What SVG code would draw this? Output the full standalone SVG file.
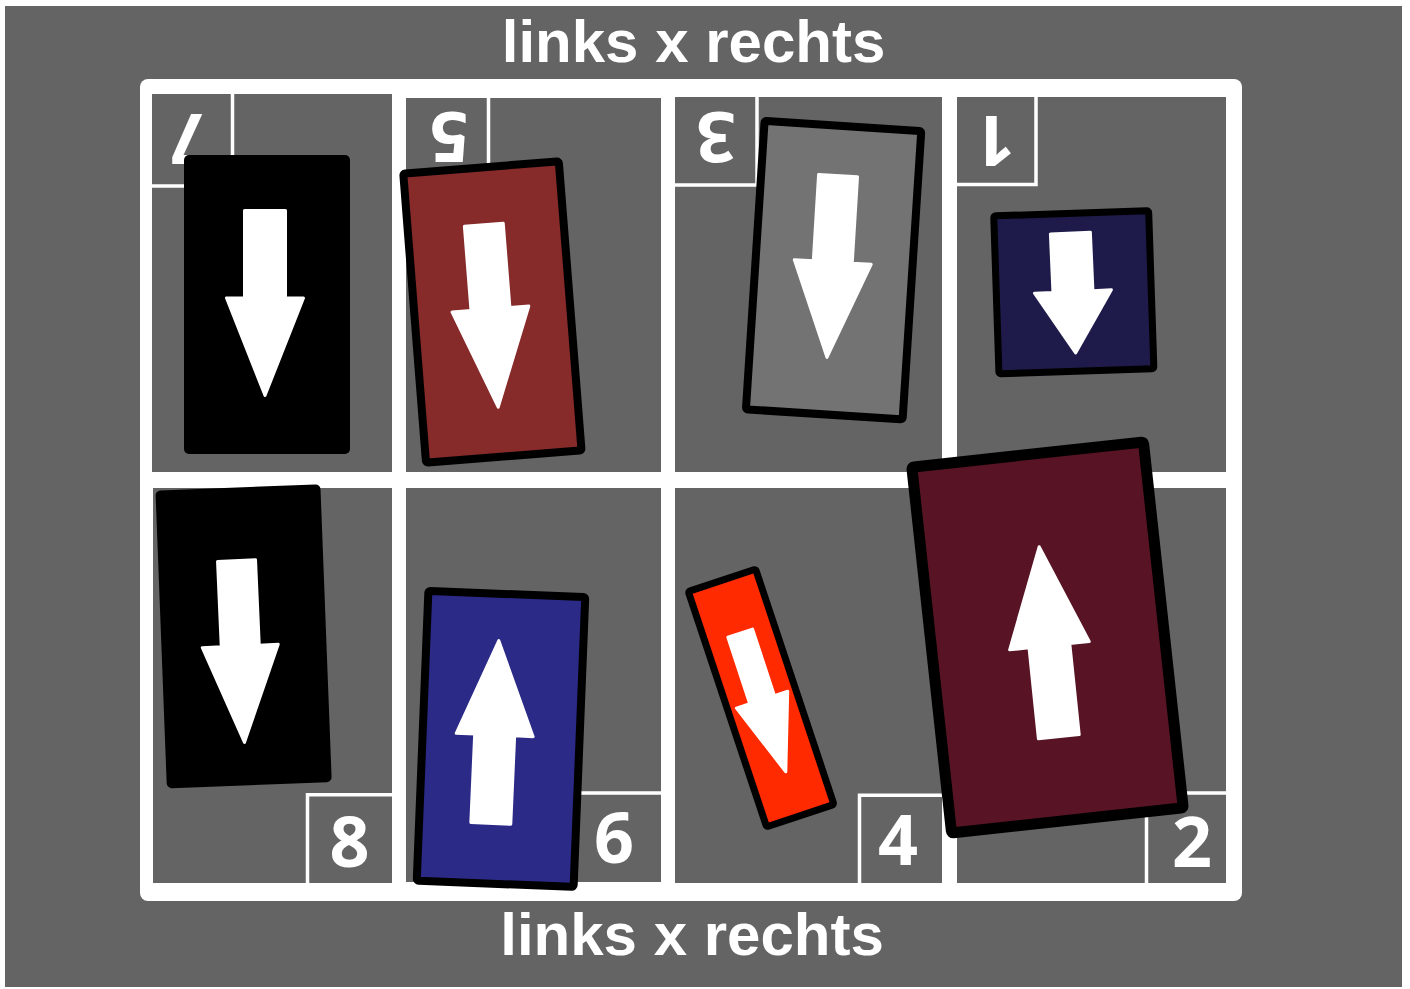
<svg xmlns="http://www.w3.org/2000/svg" width="1410" height="989" viewBox="0 0 1410 989">
<style>
.cell{fill:#646464}
.lbl{fill:none;stroke:#ffffff;stroke-width:3.5}
.num{font-family:"Open Sans","Liberation Sans",Arial,sans-serif;font-weight:bold;font-size:70px;fill:#ffffff;text-anchor:middle}
.title{font-family:"Liberation Sans",Arial,sans-serif;font-weight:bold;font-size:60px;fill:#ffffff;text-anchor:middle}
.card{stroke:#000000;stroke-linejoin:round}
.arrow{fill:#ffffff;stroke:#ffffff;stroke-width:3;stroke-linejoin:round}
</style>
<rect x="0" y="0" width="1410" height="989" fill="#ffffff"/>
<rect x="5" y="6" width="1397" height="981" fill="#646464"/>
<text class="title" x="693.5" y="62">links x rechts</text>
<text class="title" x="692" y="955">links x rechts</text>
<g id="frame">
<rect x="140" y="79" width="1102" height="822" rx="8" fill="#ffffff"/>
<rect class="cell" x="152" y="94" width="240" height="378"/>
<rect class="cell" x="406" y="98" width="255" height="374"/>
<rect class="cell" x="675" y="97" width="267" height="375"/>
<rect class="cell" x="957" y="97" width="269" height="375"/>
<rect class="cell" x="153" y="488" width="239" height="395"/>
<rect class="cell" x="406" y="488" width="255" height="394"/>
<rect class="cell" x="675" y="488" width="267" height="395"/>
<rect class="cell" x="957" y="488" width="269" height="395"/>
</g>
<g id="labels">
<path class="lbl" d="M232.5,94 V186 H152"/>
<path class="lbl" d="M488.5,98 V186 H406"/>
<path class="lbl" d="M757,97 V185 H675"/>
<path class="lbl" d="M1036,97 V184.5 H957"/>
<path class="lbl" d="M307.5,883 V794.7 H392"/>
<path class="lbl" d="M575,882 V793 H661"/>
<path class="lbl" d="M859.5,883 V795.3 H942"/>
<path class="lbl" d="M1146.5,883 V793 H1226"/>
<text class="num" x="190" y="164" transform="rotate(180 190 139)">7</text>
<text class="num" x="449" y="162" transform="rotate(180 449 137)">5</text>
<text class="num" x="716" y="162" transform="rotate(180 716 137)">3</text>
<text class="num" x="995" y="166" transform="rotate(180 995 141)">1</text>
<text class="num" x="349.5" y="867">8</text>
<text class="num" x="614" y="863">6</text>
<text class="num" x="898" y="865">4</text>
<text class="num" x="1192" y="867">2</text>
</g>
<g id="card7" transform="translate(267,304.5)">
<rect x="-83" y="-149.5" width="166" height="299" rx="5" fill="#000000"/>
<path class="arrow" transform="translate(-2,-1.5)" d="M-20.5,-92.5 H20.5 V-5 H38.5 L0,92.5 L-38.5,-5 H-20.5 Z"/>
</g>
<g id="card5">
<rect class="card" transform="translate(492.4,312) rotate(-4.5)" x="-78" y="-145" width="156" height="290" rx="2" fill="#862a2a" stroke-width="8"/>
<path class="arrow" transform="translate(491,316) rotate(-4.5)" d="M-19.5,-91.5 H19.5 V-7 H38.5 L0,91.5 L-38.5,-7 H-19.5 Z"/>
</g>
<g id="card3">
<rect class="card" transform="translate(833.6,270.2) rotate(3.7)" x="-78.5" y="-144.5" width="157" height="289" rx="2" fill="#737373" stroke-width="8"/>
<path class="arrow" transform="translate(832.5,266.5) rotate(3.5)" d="M-19.5,-91 H19.5 V-4.5 H38.5 L0,91 L-38.5,-4.5 H-19.5 Z"/>
</g>
<g id="card1">
<rect class="card" transform="translate(1073.8,292.3) rotate(-1.9)" x="-77.5" y="-79" width="155" height="158" rx="2" fill="#1e1b4a" stroke-width="7"/>
<path class="arrow" transform="translate(1073,293) rotate(-2.5)" d="M-20,-60 H20 V-1.5 H38.5 L0,60 L-38.5,-1.5 H-20 Z"/>
</g>
<g id="card8">
<rect transform="translate(243.6,636.3) rotate(-2.2)" x="-82.5" y="-149" width="165" height="298" rx="5" fill="#000000"/>
<path class="arrow" transform="translate(240.5,651.5) rotate(-2.5)" d="M-19,-91 H19 V-5.5 H38 L0,91 L-38,-5.5 H-19 Z"/>
</g>
<g id="card6">
<rect class="card" transform="translate(501,738.9) rotate(2.3)" x="-78.5" y="-145" width="157" height="290" rx="2" fill="#2b2a87" stroke-width="8"/>
<path class="arrow" transform="translate(494.8,732) rotate(182.5)" d="M-20,-91.5 H20 V-3 H38.5 L0,91.5 L-38.5,-3 H-20 Z"/>
</g>
<g id="card4">
<rect class="card" transform="translate(761.1,698) rotate(-18.4)" x="-35.5" y="-124" width="71" height="248" rx="2" fill="#ff2a00" stroke-width="7"/>
<path class="arrow" transform="translate(763,702.5) rotate(-18.2)" d="M-13,-73 H13 V-3 H27 L0,73 L-27,-3 H-13 Z"/>
</g>
<g id="card2">
<rect class="card" transform="translate(1047.5,637.5) rotate(-6.2)" x="-116.5" y="-184" width="233" height="368" rx="2" fill="#581425" stroke-width="11"/>
<path class="arrow" transform="translate(1049,641.7) rotate(174.1)" d="M-20.5,-95.5 H20.5 V-4 H40 L0,95.5 L-40,-4 H-20.5 Z"/>
</g>
<g id="connectors"></g>
</svg>
